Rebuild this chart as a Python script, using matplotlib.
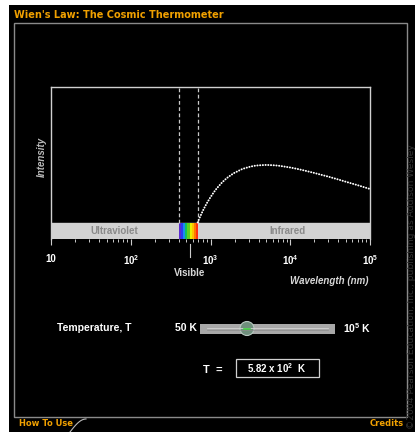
import matplotlib
matplotlib.use('Agg')
import matplotlib.pyplot as plt
from matplotlib.patches import Rectangle, Circle
import numpy as np

plt.rcParams['font.family'] = ['Liberation Sans', 'DejaVu Sans']
plt.rcParams['mathtext.fontset'] = 'custom'
plt.rcParams['mathtext.rm'] = 'Liberation Sans:bold'
plt.rcParams['mathtext.bf'] = 'Liberation Sans:bold'

# Spectrum (wavelength in nm, intensity in plot units)
wavelength = [690, 720, 750, 800, 850, 900, 1000, 1100, 1200, 1400, 1600, 1800,
              2000, 2500, 3000, 3500, 4000, 5000, 6000, 7000, 8000, 10000,
              12000, 15000, 20000, 25000, 30000, 40000, 50000, 70000, 100000]
intensity = [0.004, 0.030, 0.053, 0.089, 0.119, 0.146, 0.190, 0.226, 0.255, 0.299,
             0.330, 0.352, 0.369, 0.397, 0.411, 0.420, 0.424, 0.427, 0.425, 0.422,
             0.417, 0.408, 0.399, 0.386, 0.368, 0.353, 0.341, 0.320, 0.303, 0.278,
             0.250]

x_ticks = [10, 100, 1000, 10000, 100000]
x_ticklabels = ['10', r'$10^{2}$', r'$10^{3}$', r'$10^{4}$', r'$10^{5}$']
visible_edges = [400, 700]
rainbow = ['#5a2ad0', '#2a3cf0', '#1a8cf0', '#10c060', '#60d020', '#e8f000',
           '#ffc000', '#ff7a00', '#ff3010']
band_labels = ['Ultraviolet', 'Infrared']
band_label_pos = [63, 9100]

title = "Wien's Law: The Cosmic Thermometer"
slider_min, slider_max = '50 K', r'10$^5$ K'
temp_text = r'5.82 x 10$^2$  K'

orange = '#f0a000'
W, H = 415, 432
fig = plt.figure(figsize=(W / 100, H / 100), dpi=100, facecolor='white')

# background / frame drawn in pixel coordinates
ov = fig.add_axes([0, 0, 1, 1])
ov.set_xlim(0, W)
ov.set_ylim(H, 0)
ov.axis('off')
ov.add_patch(Rectangle((9, 5), W - 9, H - 5, facecolor='black', edgecolor='none'))
ov.add_patch(Rectangle((13.5, 22.5), 393.5, 394.5, facecolor='none', edgecolor='#8a8a8a', lw=1))
ov.text(14, 15, title, color=orange, fontsize=7, fontweight='bold',
        family='DejaVu Sans', va='center', ha='left')
ov.text(19, 424, 'How To Use', color=orange, fontsize=6, fontweight='bold',
        family='DejaVu Sans', va='center', ha='left')
ov.text(404, 424, 'Credits', color=orange, fontsize=6, fontweight='bold',
        family='DejaVu Sans', va='center', ha='right')
t = np.linspace(0, 1, 20)
ov.plot(70 + 16 * t, 432 - 13 * np.sin(t * np.pi / 2), color='#bbbbbb', lw=0.8)
ov.text(411.5, 429, '\u00a92004 Pearson Education, Inc., publishing as Addison Wesley',
        color='#333333', fontsize=6.6, rotation=90, va='bottom', ha='center',
        family='DejaVu Sans')

# labels around plot
ov.text(190, 273, 'Visible', color='#d8d8d8', fontsize=7, fontweight='bold',
        ha='center', va='center')
ov.plot([190, 190], [244, 257], color='#cccccc', lw=0.8)
ov.text(368, 281, 'Wavelength (nm)', color='#d8d8d8', fontsize=7,
        fontweight='bold', style='italic', ha='right', va='center')
ov.text(42, 157, 'Intensity', color='#bbbbbb', fontsize=7, fontweight='bold',
        style='italic', rotation=90, ha='center', va='center')

# slider
ov.text(57, 328, 'Temperature, T', color='white', fontsize=7.5, fontweight='bold',
        ha='left', va='center')
ov.text(197, 328, slider_min, color='white', fontsize=7.5, fontweight='bold',
        ha='right', va='center')
ov.text(343, 328, slider_max, color='white', fontsize=7.5, fontweight='bold',
        ha='left', va='center')
ov.add_patch(Rectangle((200, 324), 135, 10, facecolor='#a8a8a8', edgecolor='none'))
ov.plot([207, 328], [328, 328], color='#d4d4d4', lw=0.6)
ov.plot([207, 328], [330, 330], color='#8c8c8c', lw=0.5)
ov.add_patch(Circle((247, 328.5), 7, facecolor='#6f8f7c', edgecolor='#b8c8c0', lw=0.8))
ov.plot([244, 250], [328.5, 328.5], color='#40d040', lw=1.2)

ov.text(213, 370, 'T  =', color='white', fontsize=8, fontweight='bold',
        ha='center', va='center')
ov.add_patch(Rectangle((236, 358.5), 83, 18.5, facecolor='none', edgecolor='#d0d0d0', lw=0.9))
ov.text(277, 368, temp_text, color='white', fontsize=7, fontweight='bold',
        ha='center', va='center')

# spectrum plot
ax = fig.add_axes([51 / W, 1 - 239 / H, 319 / W, 152 / H])
ax.set_facecolor('black')
ax.set_xscale('log')
ax.set_xlim(10, 1e5)
band_bottom = -16 / 136
ax.set_ylim(band_bottom, 1)
ax.axhspan(band_bottom, 0, color='#d2d2d2', zorder=1)
edges = np.logspace(np.log10(visible_edges[0]), np.log10(visible_edges[1]), len(rainbow) + 1)
for i, c in enumerate(rainbow):
    ax.fill_between([edges[i], edges[i + 1]], band_bottom, 0, color=c, lw=0, zorder=2)
for lab, xp in zip(band_labels, band_label_pos):
    ax.text(xp, band_bottom / 2, lab, color='#8a8a8a', fontsize=7, fontweight='bold',
            ha='center', va='center', zorder=3)
for v in visible_edges:
    ax.plot([v, v], [0, 1], color='#c8c8c8', lw=0.9, dashes=(3, 2), zorder=2)
ax.plot(wavelength, intensity, color='white', lw=1.4,
        linestyle=(0, (0.1, 1.3)), dash_capstyle='round', zorder=4)

for s in ax.spines.values():
    s.set_color('#d0d0d0')
    s.set_linewidth(1)
ax.spines['bottom'].set_visible(False)
ax.set_yticks([])
ax.set_xticks(x_ticks)
ax.set_xticklabels(x_ticklabels)
ax.tick_params(axis='x', which='major', direction='out', length=4.5, width=0.8,
               color='#cccccc', labelcolor='white', labelsize=7, pad=6)
ax.tick_params(axis='x', which='minor', direction='out', length=2.5, width=0.7,
               color='#cccccc')
for lab in ax.get_xticklabels():
    lab.set_fontweight('bold')

fig.savefig('out.png', dpi=100, facecolor='white')
